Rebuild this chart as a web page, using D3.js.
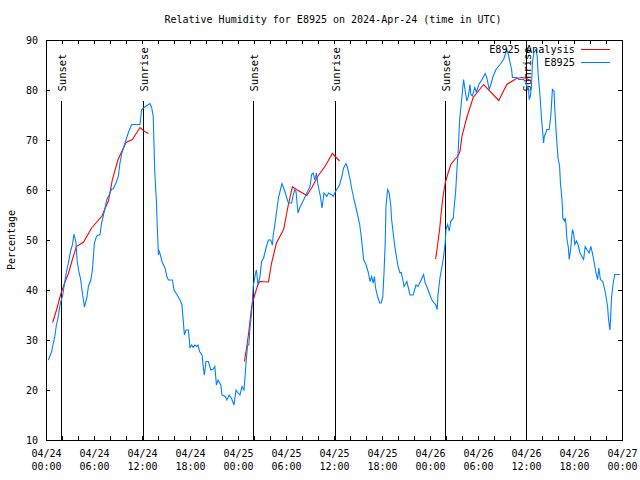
<!DOCTYPE html>
<html>
<head>
<meta charset="utf-8">
<script src="https://cdn.jsdelivr.net/npm/d3@7"></script>
<style>
  html, body { margin: 0; padding: 0; background: #fff; }
  svg { display: block; }
</style>
</head>
<body>
<svg id="chart" width="640" height="480"></svg>
<script>
// ---------------- data ----------------
const titleText = "Relative Humidity for E8925 on 2024-Apr-24 (time in UTC)";
const yLabelText = "Percentage";
const seriesNames = ["E8925 Analysis", "E8925"];
const seriesColors = ["#ff0000", "#0080ff"];
const startDate = Date.UTC(2024, 3, 24); // 2024-04-24 00:00 UTC
const endHours = 72;
const yTicks = [10, 20, 30, 40, 50, 60, 70, 80, 90];
const xLabelHours = [0, 6, 12, 18, 24, 30, 36, 42, 48, 54, 60, 66, 72];

// observed E8925 (hours since 04/24 00:00 UTC)
const obsHours = [0.3,0.7,1.1,1.3,1.5,1.8,2.1,2.25,2.6,2.8,3.1,3.3,3.5,3.75,3.9,4.1,4.3,4.5,4.7,4.8,5.1,5.3,5.6,5.8,6.05,6.3,6.5,6.75,6.95,7.25,7.6,7.9,8.2,8.4,8.75,9.05,9.25,9.5,9.9,10.3,10.7,11.75,11.95,12.5,13.0,13.2,13.4,13.6,13.8,13.9,14.0,14.05,14.1,14.3,14.5,14.7,14.9,15.1,15.3,15.8,16.0,16.25,16.5,16.75,17.0,17.1,17.25,17.3,17.5,17.8,18.0,18.2,18.4,18.6,18.8,19.0,19.2,19.5,19.7,19.8,20.0,20.3,20.6,20.9,21.1,21.25,21.3,21.5,21.85,22.0,22.4,22.6,22.9,23.2,23.5,23.75,24.0,24.25,24.5,24.75,24.9,25.0,25.2,25.35,25.5,25.7,25.8,25.9,26.2,26.3,26.5,26.75,26.95,27.2,27.5,27.8,28.1,28.3,28.4,28.6,28.85,29.05,29.25,29.5,29.8,30.1,30.3,30.7,30.9,31.1,31.25,31.5,31.7,32.2,32.6,33.0,33.2,33.4,33.6,33.8,34.0,34.3,34.5,34.75,35.1,35.3,35.75,35.9,36.1,36.3,36.7,37.0,37.2,37.5,37.7,38.0,38.2,38.5,38.8,39.2,39.4,39.7,40.0,40.3,40.5,40.7,40.9,41.05,41.2,41.4,41.7,41.9,42.1,42.25,42.4,42.5,42.7,42.9,43.1,43.2,43.4,43.6,43.8,44.0,44.25,44.4,44.6,44.75,45.1,45.3,45.5,45.9,46.25,46.5,46.8,47.2,47.4,47.6,47.9,48.2,48.5,48.7,48.9,49.0,49.25,49.5,49.7,49.9,50.0,50.2,50.4,50.6,50.9,51.05,51.2,51.4,51.55,51.7,52.0,52.2,52.4,52.6,52.8,53.0,53.1,53.3,53.6,53.8,54.1,54.5,54.9,55.1,55.4,55.6,55.9,56.25,56.75,57.2,57.4,57.6,57.8,58.0,58.2,58.3,58.8,59.1,59.7,60.0,60.2,60.3,60.4,60.55,60.7,60.8,61.0,61.25,61.4,61.5,61.75,61.95,62.2,62.3,62.5,62.6,62.9,63.1,63.3,63.5,63.6,63.8,64.0,64.2,64.3,64.5,64.6,64.8,64.9,65.0,65.1,65.3,65.4,65.6,65.8,65.95,66.1,66.3,66.5,66.75,67.0,67.2,67.4,67.6,67.9,68.1,68.3,68.5,68.75,68.95,69.1,69.3,69.6,69.8,70.0,70.2,70.3,70.45,70.5,70.7,70.9,71.1,71.75];
const obsValues = [26.0,27.7,30.7,33,34.4,37.4,39,40.7,44,45.4,48,49,51.2,49.4,45.7,43.7,42.4,40,37.7,36.6,38.4,40.7,42,44,49.4,50.7,51,51,53.4,55.4,58.1,59,60.2,60.2,61.4,62.8,65.5,67.5,69.5,71.5,73.1,73.1,76.1,76.8,77.3,76.5,74.8,63.4,57.8,53,49,47,48,47,45.7,45,44.3,42.7,42,42,40,39.4,38.7,38,37,35,32,31,32,32,28.5,29,28.5,29,28.7,29,27.7,27,24,23,25.7,25.7,24,24.2,24.7,22,21,22,21,19,18.7,18,19,18.3,17,20,19.4,19,20.7,20,23,25.4,29,29,32.4,35.4,37.7,40.7,43.4,44,41,42.7,45.7,46.4,48.4,50,50,49,51,53,56,58.4,59.7,61.3,60,58.4,57.4,57.4,59,60,59.7,55.4,56.4,58,59.4,60.7,63.1,63.4,62,63.4,61,58.7,56.4,59.4,58.7,59.4,59,58.7,59.4,60,61,62.8,64.4,65.3,64.4,62.2,60.4,58.1,56.1,53.2,50.8,46.1,45.1,43.4,41.7,42.7,41.4,42.7,40.4,39,37.4,37.4,38.7,43.4,49.4,56.8,60.1,59.4,56.8,54.1,51.4,48.7,46.7,44.7,43.4,43.5,42.1,40.7,41.7,40.4,39,39,41,40.7,41.7,43.1,41.4,40.7,39.4,38.1,37.4,37.1,36.1,39.1,42.5,44.7,46.7,49.4,52.1,53.1,51.8,53.8,54.3,57.1,59.5,65,68.5,74,78.8,82.1,79.8,77.8,78.8,81.1,79.1,78.8,80.5,79.5,81.1,82.1,83.3,82.5,80.1,81.1,82.8,84.1,85.1,86.1,87.1,88.1,87.1,85.5,84.1,82.5,82.5,82.1,82.1,81.5,80.1,80.5,78.1,78.8,81.1,85.5,87.5,88.1,86.8,83.5,78.8,74.1,69.4,70.8,71.5,72.1,72.1,74.8,80.1,79.8,76.1,70.8,66.4,64.8,61.5,58.1,54.4,53.8,54.4,53.1,50.4,48.4,46.1,48.4,52.1,51.4,49.1,49.8,49.1,47.4,46.7,46.1,48.7,48.1,47.4,48.7,47.4,45.7,43.4,42.1,44.4,42.1,41.7,40.4,38.7,36.7,34.4,32.4,32,38.7,41.4,43.1,43.1];

// analysis E8925 (null = gap between runs)
const anaHours = [0.83,1.33,1.83,2.4,2.8,3.3,3.8,4.7,5.7,7.0,7.4,7.8,8.3,9.0,10.0,10.8,11.75,12.25,12.8, 18,
  24.8,25.1,25.3,25.5,25.7,26.1,26.5,26.75,27.8,28.2,28.8,29.7,30.3,30.8,31.3,32.6,33.2,34.0,34.9,35.8,36.7, 42,
  48.7,48.9,49.2,49.4,49.6,49.9,50.2,50.6,51.1,51.5,51.75,52.0,52.6,53.4,54.7,56.6,57.6,58.8,59.5,60.1,60.6];
const anaValues = [33.5,36.1,39.1,41.7,43.3,46.1,48.7,49.6,52.4,54.8,56.4,57.8,62.1,66.1,69.5,70.1,72.5,71.8,71.3, null,
  25.7,28.7,31,33.7,36.7,39.1,41.1,41.7,41.6,45.4,49.4,52.1,57.1,60.6,60.1,58.9,60.4,62.8,64.8,67.3,65.8, null,
  46.2,48.4,52.1,55.4,58.4,61.4,63.1,65.1,66.1,66.8,67.8,70.8,74.5,78.5,81.1,77.9,81.1,82.3,82.5,82.3,81.8];

// sun events
const sunLabels = ["Sunset", "Sunrise", "Sunset", "Sunrise", "Sunset", "Sunrise"];
const sunHours = [1.92, 12.16, 25.91, 36.16, 49.91, 60.04];
const sunLineTop = [77.8, 77.8, 77.8, 77.8, 77.8, 89.3]; // top of marker line in % units

// ---------------- chart ----------------
const W = 640, H = 480;
const M = { left: 46, right: 18, top: 40, bottom: 40 };
const FONT = "'DejaVu Sans Mono', monospace";
const svg = d3.select("#chart");
const toDate = h => new Date(startDate + h * 3600e3);

const x = d3.scaleUtc().domain([toDate(0), toDate(endHours)]).range([M.left, W - M.right]);
const y = d3.scaleLinear().domain([10, 90]).range([H - M.bottom, M.top]);

const obs = obsHours.map((h, i) => ({ t: toDate(h), v: obsValues[i] }));
const ana = anaHours.map((h, i) => ({ t: toDate(h), v: anaValues[i] }));

// axes
const xMinor = d3.utcHour.every(2).range(toDate(0), toDate(endHours + 0.01));
const gBottom = svg.append("g").attr("transform", `translate(0,${H - M.bottom})`)
  .call(d3.axisBottom(x).tickValues(xMinor).tickSizeInner(-4).tickSizeOuter(0).tickFormat(() => ""));
const gTop = svg.append("g").attr("transform", `translate(0,${M.top})`)
  .call(d3.axisTop(x).tickValues(xMinor).tickSizeInner(-4).tickSizeOuter(0).tickFormat(() => ""));
const gLeft = svg.append("g").attr("transform", `translate(${M.left},0)`)
  .call(d3.axisLeft(y).tickValues(yTicks).tickSizeInner(-4).tickSizeOuter(0).tickPadding(8));
const gRight = svg.append("g").attr("transform", `translate(${W - M.right},0)`)
  .call(d3.axisRight(y).tickValues(yTicks).tickSizeInner(-4).tickSizeOuter(0).tickFormat(() => ""));

// x labels
const gXLab = svg.append("g").attr("transform", `translate(0,${H - M.bottom})`)
  .call(d3.axisBottom(x).tickValues(xLabelHours.map(toDate)).tickSize(0).tickPadding(10)
    .tickFormat(d3.utcFormat("%m/%d")));
gXLab.select(".domain").remove();
gXLab.selectAll(".tick text").each(function(d) {
  const t = d3.select(this);
  t.text(null).attr("dy", null).attr("y", 0);
  t.append("tspan").attr("x", 0).attr("y", 17).text(d3.utcFormat("%m/%d")(d));
  t.append("tspan").attr("x", 0).attr("y", 30).text(d3.utcFormat("%H:%M")(d));
});

[gBottom, gTop, gLeft, gRight, gXLab].forEach(g => {
  g.attr("font-family", FONT).attr("font-size", 10);
  g.selectAll("path, line").attr("stroke", "#000").attr("shape-rendering", "crispEdges");
  g.selectAll("text").attr("fill", "#000");
});

// sun markers
const gSun = svg.append("g");
sunHours.forEach((h, i) => {
  const xx = Math.round(x(toDate(h))) + 0.5;
  gSun.append("line").attr("x1", xx).attr("x2", xx)
    .attr("y1", y(sunLineTop[i])).attr("y2", y(10))
    .attr("stroke", "#000").attr("stroke-width", 1).attr("shape-rendering", "crispEdges");
  gSun.append("text")
    .attr("transform", `translate(${xx},${y(79.7)}) rotate(-90)`)
    .attr("dominant-baseline", "central")
    .attr("font-family", FONT).attr("font-size", 10.5).attr("fill", "#000")
    .text(sunLabels[i]);
});

// series
const line = d3.line().defined(d => d.v != null).x(d => x(d.t)).y(d => y(d.v));
svg.append("path").datum(ana).attr("d", line).attr("fill", "none")
  .attr("stroke", seriesColors[0]).attr("stroke-width", 1.1);
svg.append("path").datum(obs).attr("d", line).attr("fill", "none")
  .attr("stroke", seriesColors[1]).attr("stroke-width", 1.1);

// title
svg.append("text").attr("x", 333).attr("y", 23).attr("text-anchor", "middle")
  .attr("font-family", FONT).attr("font-size", 10).attr("fill", "#000").text(titleText);

// y label
svg.append("text").attr("transform", `translate(11,${(M.top + H - M.bottom) / 2}) rotate(-90)`)
  .attr("text-anchor", "middle").attr("dominant-baseline", "central")
  .attr("font-family", FONT).attr("font-size", 10).attr("fill", "#000").text(yLabelText);

// legend
const gLeg = svg.append("g");
seriesNames.forEach((name, i) => {
  const ly = 49.5 + i * 13;
  gLeg.append("text").attr("x", 575).attr("y", ly).attr("text-anchor", "end")
    .attr("dominant-baseline", "central")
    .attr("font-family", FONT).attr("font-size", 10.2).attr("fill", "#000").text(name);
  gLeg.append("line").attr("x1", 581).attr("x2", 610).attr("y1", ly).attr("y2", ly)
    .attr("stroke", seriesColors[i]).attr("stroke-width", 1).attr("shape-rendering", "crispEdges");
});
</script>
</body>
</html>
